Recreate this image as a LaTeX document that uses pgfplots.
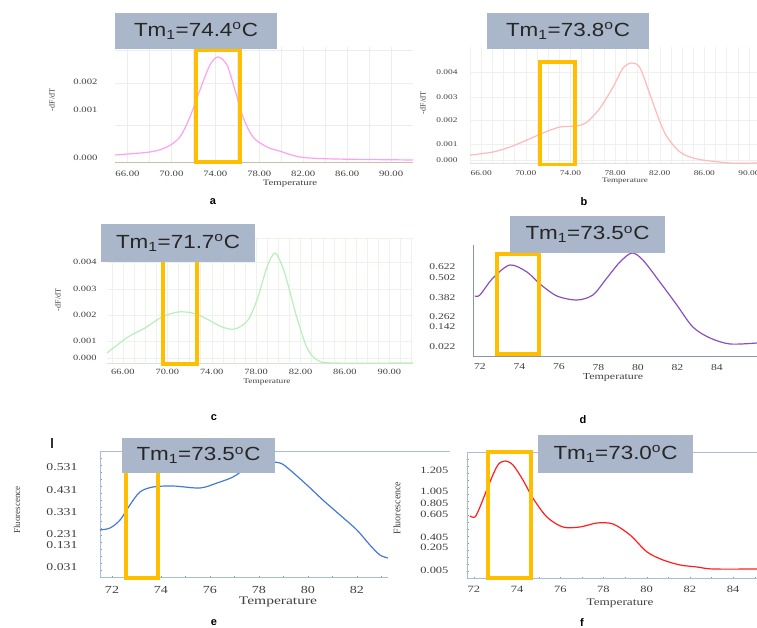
\documentclass[border=0pt]{standalone}
\usepackage{pgfplots}
\pgfplotsset{compat=1.18}
\usepackage{fontspec}
\setmainfont{Liberation Serif}
\newfontfamily\arial{Liberation Sans}
\definecolor{tmbox}{RGB}{170,182,201}
\definecolor{hl}{RGB}{255,190,0}
\definecolor{ca}{RGB}{255,160,240}
\definecolor{cb}{RGB}{255,185,185}
\definecolor{cc}{RGB}{185,238,185}
\definecolor{cd}{RGB}{138,80,190}
\definecolor{ce}{RGB}{70,122,210}
\definecolor{cf}{RGB}{255,30,30}
\definecolor{fr}{RGB}{168,188,212}
\newcommand{\fs}[1]{\fontsize{#1}{#1}\selectfont}
\newcommand{\hs}[1]{\scalebox{1.3}[1]{#1}}
\pgfplotsset{
  panel/.style={scale only axis, anchor=south west, clip=false,
    major tick length=0pt, minor tick length=0pt, scaled y ticks=false,
    tick label style={text=black!75}},
  curve/.style={smooth, no marks, line width=1.2pt},
  dec/.style={xticklabels={\hs{66.00},\hs{70.00},\hs{74.00},\hs{78.00},\hs{82.00},\hs{86.00},\hs{90.00}},
    xtick={66,70,74,78,82,86,90}},
}
\newcommand{\tm}[5]{%
  \fill[tmbox] (#1,#2) rectangle (#3,#4);
  \node[font=\arial\fs{19}, text=black!85] at ({(#1+#3)/2},{(#2+#4)/2})
    {\scalebox{1.18}[1]{Tm\textsubscript{1}=#5\textsuperscript{o}C}};}
\begin{document}
\begin{tikzpicture}[x=1pt,y=1pt]
% ---------- a ----------
\begin{axis}[panel, dec, at={(115pt,465pt)}, width=298pt, height=116pt,
  xmin=64.87, xmax=91.99, ymin=-0.000132, ymax=0.002921,
  axis x line*=bottom, axis y line*=left,
  x axis line style={-, draw=black!30!brown!40, line width=1pt}, y axis line style={draw=none},
  minor xtick={66,68,...,90},
  ytick={0,0.001263,0.002}, yticklabels={\hs{0.000},\hs{0.001},\hs{0.002}},
  minor ytick={0.000868,0.001974,0.00284},
  xminorgrids, yminorgrids, minor grid style={black!7},
  xticklabel style={font=\fs{8.2}, yshift=-4.5pt}, yticklabel style={font=\fs{8.2}, xshift=-14pt}]
\addplot[curve, ca] coordinates {(64.87,0.000079) (68.05,0.000158) (69.60,0.000289) (70.78,0.000553)
  (71.69,0.001079) (72.60,0.001789) (73.51,0.002447) (74.24,0.002658) (75.06,0.002447) (75.79,0.001789)
  (76.52,0.001079) (77.43,0.000553) (78.70,0.000289) (79.88,0.000180) (81.70,0.000026) (84.71,-0.000026) (91.99,-0.000053)};
\draw[hl, line width=3.5pt] (axis cs:72.24,-0.000105) rectangle (axis cs:76.24,0.002842);
\end{axis}
% ---------- b ----------
\begin{axis}[panel, dec, at={(470pt,464pt)}, width=287pt, height=117pt,
  xmin=65.0, xmax=90.72, ymin=-0.000182, ymax=0.005136,
  axis x line*=bottom, axis y line*=left,
  x axis line style={-, draw=black!12, line width=1pt}, y axis line style={draw=none},
  minor xtick={65,66,...,90},
  ytick={0,0.000727,0.001818,0.002864,0.004}, yticklabels={\hs{0.000},\hs{0.001},\hs{0.002},\hs{0.003},\hs{0.004}},
  xminorgrids, ymajorgrids, minor grid style={black!6}, major grid style={black!6},
  xticklabel style={font=\fs{7.2}, yshift=-3pt}, yticklabel style={font=\fs{7.2}, xshift=-9pt}]
\addplot[curve, cb] coordinates {(65.0,0.000220) (67.07,0.000364) (68.59,0.000591) (70.11,0.000909)
  (71.55,0.001227) (73.07,0.0015) (74.59,0.001545) (75.49,0.001727) (76.66,0.002364) (77.82,0.003318)
  (78.72,0.004182) (79.52,0.004409) (80.24,0.004182) (81.14,0.002955) (82.03,0.001727) (82.66,0.001045)
  (83.82,0.000364) (85.35,0.000045) (88.30,-0.000136) (90.72,-0.000136)};
\draw[hl, line width=3.5pt] (axis cs:71.28,-0.0002) rectangle (axis cs:74.42,0.004455);
\end{axis}
% ---------- c ----------
\begin{axis}[panel, dec, at={(107pt,264pt)}, width=306pt, height=126pt,
  xmin=64.57, xmax=92.13, ymin=-0.00025, ymax=0.005,
  axis x line*=bottom, axis y line*=left,
  x axis line style={-, draw=green!25!black!15, line width=1pt}, y axis line style={draw=none},
  minor xtick={65,66,...,92},
  ytick={0,0.000708,0.001792,0.002875,0.004}, yticklabels={\hs{0.000},\hs{0.001},\hs{0.002},\hs{0.003},\hs{0.004}},
  extra y ticks={0.005}, extra y tick labels={},
  xminorgrids, ymajorgrids, minor grid style={green!40!black!8}, major grid style={green!40!black!8},
  xticklabel style={font=\fs{8}, yshift=-1.5pt}, yticklabel style={font=\fs{8}, xshift=-7pt}]
\addplot[curve, cc] coordinates {(64.57,0.000210) (66.46,0.000875) (67.99,0.00125) (69.52,0.001708)
  (70.96,0.001917) (72.23,0.001875) (73.40,0.001667) (74.93,0.001292) (76.10,0.001208) (77.27,0.001583)
  (78.17,0.002542) (78.98,0.003792) (79.70,0.004375) (80.42,0.00375) (81.05,0.00275) (81.68,0.001667)
  (82.59,0.000417) (83.49,-0.000083) (84.93,-0.000208) (92.13,-0.000208)};
\draw[hl, line width=3.5pt] (axis cs:69.61,-0.00025) rectangle (axis cs:72.68,0.004083);
\end{axis}
% ---------- d ----------
\begin{axis}[panel, at={(473pt,271pt)}, width=284pt, height=112pt,
  xmin=71.65, xmax=86.03, ymin=-0.053, ymax=0.787,
  axis x line*=bottom, axis y line*=left,
  x axis line style={-, draw=fr!80!black, line width=1pt}, y axis line style={-, draw=fr!80!black, line width=1pt},
  xtick={72,74,...,84}, xticklabels={\hs{72},\hs{74},\hs{76},\hs{78},\hs{80},\hs{82},\hs{84}},
  ytick={0.022,0.172,0.247,0.3895,0.5395,0.622}, yticklabels={\hs{0.022},\hs{0.142},\hs{0.262},\hs{0.382},\hs{0.502},\hs{0.622}},
  xticklabel style={font=\fs{9}, yshift=-3.5pt}, yticklabel style={font=\fs{8.9}, xshift=-14pt}]
\addplot[curve, cd] coordinates {(71.75,0.4045) (72.0,0.412) (72.66,0.5395) (73.52,0.637) (74.38,0.5845)
  (75.04,0.4945) (75.90,0.4045) (76.91,0.3745) (77.72,0.412) (78.43,0.5395) (79.09,0.6595) (79.70,0.727)
  (80.25,0.6745) (81.11,0.5095) (81.97,0.337) (82.78,0.172) (83.65,0.0895) (84.66,0.0445) (86.03,0.052)};
\draw[hl, line width=3.5pt] (axis cs:72.86,-0.0305) rectangle (axis cs:74.99,0.7195);
\end{axis}
% ---------- e ----------
\begin{axis}[panel, at={(100pt,50pt)}, width=288pt, height=126pt,
  xmin=71.51, xmax=83.27, ymin=-0.024, ymax=0.606,
  axis x line*=box, axis y line*=left, xtick pos=left,
  x axis line style={-, draw=fr, line width=1pt}, y axis line style={-, draw=fr, line width=1pt},
  minor tick length=2pt, minor tick style={draw=fr!80!black},
  minor xtick={72,73,...,83}, minor ytick={-0.02,0.015,...,0.6},
  xtick={72,74,...,82}, xticklabels={\hs{72},\hs{74},\hs{76},\hs{78},\hs{80},\hs{82}},
  ytick={0.031,0.141,0.196,0.306,0.416,0.531}, yticklabels={\hs{0.031},\hs{0.131},\hs{0.231},\hs{0.331},\hs{0.431},\hs{0.531}},
  xticklabel style={font=\fs{10.8}, yshift=-4.5pt}, yticklabel style={font=\fs{10.6}, xshift=-19pt}]
\addplot[curve, ce] coordinates {(71.51,0.216) (71.92,0.226) (72.33,0.266) (72.73,0.341) (73.14,0.406)
  (73.67,0.431) (74.49,0.436) (75.59,0.426) (76.29,0.451) (76.94,0.481) (77.51,0.526) (78.16,0.556)
  (78.86,0.551) (79.27,0.516) (79.96,0.441) (80.61,0.366) (81.31,0.291) (82.0,0.216) (82.53,0.141)
  (82.94,0.091) (83.27,0.076)};
\draw[hl, line width=3.5pt] (axis cs:72.57,-0.024) rectangle (axis cs:73.88,0.566);
\end{axis}
% ---------- f ----------
\begin{axis}[panel, at={(467pt,49pt)}, width=290pt, height=126pt,
  xmin=71.68, xmax=85.11, ymin=-0.103, ymax=1.409,
  axis x line*=box, axis y line*=left, xtick pos=left,
  x axis line style={-, draw=fr, line width=1pt}, y axis line style={-, draw=fr, line width=1pt},
  minor tick length=2pt, minor tick style={draw=fr!80!black},
  minor xtick={72,73,...,85}, minor ytick={-0.09,-0.006,...,1.4},
  xtick={72,74,...,84}, xticklabels={\hs{72},\hs{74},\hs{76},\hs{78},\hs{80},\hs{82},\hs{84}},
  ytick={0.005,0.281,0.401,0.677,0.809,0.953,1.205}, yticklabels={\hs{0.005},\hs{0.205},\hs{0.405},\hs{0.605},\hs{0.805},\hs{1.005},\hs{1.205}},
  xticklabel style={font=\fs{9.6}, yshift=-3.5pt}, yticklabel style={font=\fs{9.6}, xshift=-15pt}]
\addplot[curve, cf] coordinates {(71.81,0.653) (72.05,0.641) (72.28,0.761) (72.74,1.061) (73.11,1.265)
  (73.44,1.313) (73.81,1.265) (74.27,1.085) (74.73,0.869) (75.38,0.641) (76.12,0.521) (76.91,0.521)
  (77.70,0.569) (78.44,0.557) (79.23,0.425) (80.02,0.221) (80.76,0.125) (81.55,0.065) (82.33,0.041)
  (83.08,0.017) (85.11,0.017)};
\draw[hl, line width=3.5pt] (axis cs:72.65,-0.091) rectangle (axis cs:74.64,1.421);
\end{axis}
% ---------- boxes and labels ----------
\tm{115}{579}{277}{615}{74.4}
\tm{487}{579}{649}{615}{73.8}
\tm{101}{366}{255}{404}{71.7}
\tm{510}{375}{665}{412}{73.5}
\tm{122}{155}{275}{190}{73.5}
\tm{538}{155}{693}{193}{73.0}
\draw[fr, line width=1pt] (388,176) -- (450,176);
\draw[black!80, line width=1.3pt] (52,180) -- (52,190);
\node[font=\fs{8.3}, text=black!75] at (290,444) {\hs{Temperature}};
\node[font=\fs{7}, text=black!75] at (625,447) {\hs{Temperature}};
\node[font=\fs{7.2}, text=black!75] at (267,246) {\hs{Temperature}};
\node[font=\fs{9.2}, text=black!75] at (613,251) {\hs{Temperature}};
\node[font=\fs{11.5}, text=black!75] at (278,26) {\scalebox{1.35}[1]{Temperature}};
\node[font=\fs{10.2}, text=black!75] at (620,25) {\hs{Temperature}};
\node[font=\fs{8}, text=black!75, rotate=90] at (52,528) {-dF/dT};
\node[font=\fs{8}, text=black!75, rotate=90] at (423,525) {-dF/dT};
\node[font=\fs{8}, text=black!75, rotate=90] at (58,328) {-dF/dT};
\node[font=\fs{9}, text=black!75, rotate=90] at (17,118) {Fluorescence};
\node[font=\fs{10}, text=black!75, rotate=90] at (397,120) {Fluorescence};
\node[font=\arial\bfseries\fs{11}] at (213,426) {a};
\node[font=\arial\bfseries\fs{11}] at (584,426) {b};
\node[font=\arial\bfseries\fs{11}] at (214,210) {c};
\node[font=\arial\bfseries\fs{11}] at (583,208) {d};
\node[font=\arial\bfseries\fs{11}] at (214,5) {e};
\node[font=\arial\bfseries\fs{11}] at (582,5) {f};
\pgfresetboundingbox
\useasboundingbox (0,0) rectangle (757,628);
\end{tikzpicture}
\end{document}
